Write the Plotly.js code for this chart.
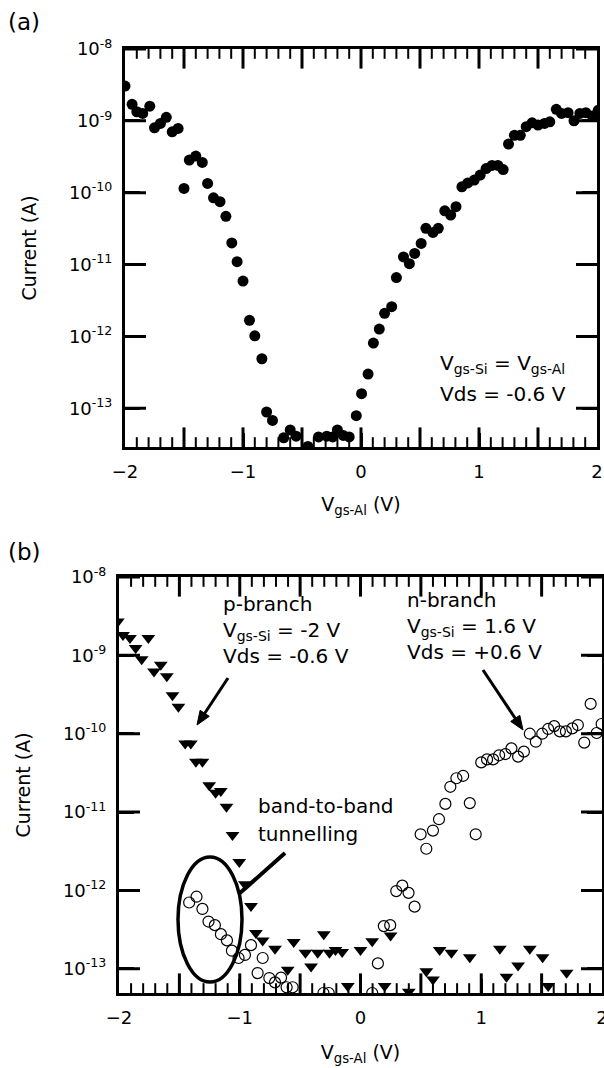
<!DOCTYPE html>
<html>
<head>
<meta charset="utf-8">
<script src="https://cdn.plot.ly/plotly-3.0.1.min.js"></script>
<style>html,body{margin:0;padding:0;background:#fff;}#chart{width:604px;height:1068px;}</style>
</head>
<body>
<div id="chart"></div>
<script>
// ---------- Data: panel (a), Vgs-Si = Vgs-Al, Vds = -0.6 V ----------
const aVgs = [-2.00,-1.94,-1.90,-1.85,-1.79,-1.75,-1.70,-1.65,-1.60,-1.55,-1.50,-1.455,-1.40,-1.345,-1.30,-1.25,-1.195,-1.145,-1.095,-1.05,
  -1.00,-0.945,-0.90,-0.84,-0.80,-0.75,-0.655,-0.60,-0.55,-0.45,-0.36,-0.29,-0.24,-0.20,-0.15,-0.10,-0.04,0.005,0.06,0.105,
  0.155,0.20,0.26,0.30,0.36,0.41,0.455,0.51,0.55,0.61,0.655,0.71,0.76,0.805,0.855,0.905,0.96,1.01,1.06,1.11,
  1.16,1.205,1.25,1.30,1.35,1.40,1.45,1.50,1.555,1.60,1.655,1.70,1.755,1.805,1.855,1.905,1.96,2.01];
const aCurrent = [3.05e-9,1.7e-9,1.34e-9,1.27e-9,1.6e-9,8.0e-10,9.2e-10,1.12e-9,7.05e-10,7.85e-10,1.15e-10,2.85e-10,3.24e-10,2.64e-10,1.35e-10,8.5e-11,7.5e-11,4.7e-11,2.0e-11,1.1e-11,
  5.9e-12,1.68e-12,1.02e-12,4.9e-13,8.9e-14,6.8e-14,3.9e-14,5.0e-14,4.1e-14,2.95e-14,4.0e-14,4.1e-14,4.0e-14,5.0e-14,4.2e-14,4.0e-14,7.9e-14,1.6e-13,3.0e-13,8.1e-13,
  1.27e-12,2.1e-12,2.6e-12,6.6e-12,1.28e-11,1.03e-11,1.43e-11,1.97e-11,3.2e-11,2.8e-11,3.2e-11,5.6e-11,4.9e-11,6.4e-11,1.21e-10,1.37e-10,1.5e-10,1.76e-10,2.17e-10,2.4e-10,
  2.4e-10,2.1e-10,4.75e-10,6.3e-10,6.3e-10,8.3e-10,9.4e-10,8.75e-10,9.2e-10,9.7e-10,1.45e-9,1.27e-9,1.3e-9,1.0e-9,1.27e-9,1.3e-9,1.17e-9,1.4e-9];

// ---------- Data: panel (b), p-branch (Vgs-Si = -2 V, Vds = -0.6 V) ----------
const pVgs = [-2.01,-1.967,-1.909,-1.862,-1.812,-1.757,-1.71,-1.654,-1.604,-1.557,-1.508,-1.452,-1.405,-1.363,-1.309,-1.253,-1.20,-1.157,-1.11,-1.06,
  -1.004,-0.957,-0.907,-0.866,-0.81,-0.708,-0.603,-0.553,-0.456,-0.409,-0.354,-0.304,-0.257,-0.207,-0.152,-0.105,0.0,0.097,0.2,0.249,
  0.40,0.545,0.60,0.656,0.753,0.905,1.154,1.209,1.305,1.402,1.508,1.554,1.707];
const pCurrent = [2.7e-9,1.82e-9,1.66e-9,1.24e-9,8.9e-10,1.66e-9,6.2e-10,7.6e-10,5.4e-10,3.1e-10,2.2e-10,7.5e-11,7.5e-11,4.4e-11,4.4e-11,2.2e-11,1.76e-11,1.86e-11,1.17e-11,5.1e-12,
  2.3e-12,1.2e-12,6.3e-13,2.85e-13,2.3e-13,1.8e-13,9.7e-14,2.2e-13,1.6e-13,1.07e-13,1.6e-13,2.76e-13,1.6e-13,1.74e-13,1.63e-13,6.0e-14,1.74e-13,2.24e-13,6.0e-14,2.66e-13,
  5.1e-14,9.3e-14,7.3e-14,1.74e-13,1.6e-13,1.4e-13,1.8e-13,7.9e-14,1.1e-13,1.8e-13,1.4e-13,6.0e-14,8.9e-14];

// ---------- Data: panel (b), n-branch (Vgs-Si = 1.6 V, Vds = +0.6 V) ----------
const nVgs = [-1.419,-1.358,-1.309,-1.259,-1.206,-1.156,-1.106,-1.065,-1.01,-0.957,-0.907,-0.852,-0.81,-0.755,-0.708,-0.658,-0.612,-0.562,-0.307,-0.263,
  0.097,0.144,0.193,0.246,0.296,0.346,0.398,0.448,0.498,0.545,0.60,0.65,0.703,0.744,0.794,0.85,0.905,0.954,1.0,1.048,
  1.098,1.148,1.20,1.25,1.305,1.353,1.402,1.452,1.505,1.554,1.604,1.651,1.701,1.754,1.80,1.853,1.906,1.956,1.997];
const nCurrent = [7.0e-13,8.3e-13,5.8e-13,4.0e-13,3.6e-13,2.76e-13,2.3e-13,1.7e-13,1.37e-13,1.5e-13,2.0e-13,8.8e-14,1.37e-13,7.6e-14,6.7e-14,7.7e-14,5.8e-14,5.8e-14,4.9e-14,4.9e-14,
  4.9e-14,1.17e-13,3.5e-13,3.6e-13,9.8e-13,1.15e-12,9.3e-13,6.2e-13,5.2e-12,3.4e-12,5.8e-12,8.1e-12,1.27e-11,2.1e-11,2.7e-11,2.9e-11,1.3e-11,5.2e-12,4.3e-11,4.7e-11,
  4.7e-11,5.3e-11,5.5e-11,6.5e-11,5.1e-11,5.9e-11,1.0e-10,7.9e-11,1.0e-10,1.15e-10,1.25e-10,1.07e-10,1.07e-10,1.17e-10,1.29e-10,7.7e-11,2.4e-10,1.02e-10,1.33e-10];

// ---------- Tick values / labels ----------
const yTickVals = [1e-8,1e-9,1e-10,1e-11,1e-12,1e-13];
const yTickText = ['10<sup>-8</sup>','10<sup>-9</sup>','10<sup>-10</sup>','10<sup>-11</sup>','10<sup>-12</sup>','10<sup>-13</sup>'];
const xMajorTicks = [-1.5,-1,-0.5,0,0.5,1,1.5];
const xMinorTicks = [-1.9,-1.8,-1.7,-1.6,-1.4,-1.3,-1.2,-1.1,-0.9,-0.8,-0.7,-0.6,-0.4,-0.3,-0.2,-0.1,
                     0.1,0.2,0.3,0.4,0.6,0.7,0.8,0.9,1.1,1.2,1.3,1.4,1.6,1.7,1.8,1.9];

// ---------- Layout helpers ----------
const W = 604, H = 1068;
const px = v => v / W;
const py = v => 1 - v / H;
const FONT = 'DejaVu Sans, Liberation Sans, Arial, sans-serif';
const CLEAR = 'rgba(0,0,0,0)';

const rangeA = [Math.log10(2.9e-14), -8];
const rangeB = [Math.log10(4.9e-14), -8];
const X_RANGE = [-2, 2];

function xMain(domain, anchor, standoff) {
  return {
    domain: domain, anchor: anchor, range: X_RANGE,
    tickmode: 'linear', tick0: -2, dtick: 1,
    ticks: 'inside', ticklen: 14, tickwidth: 3, tickcolor: 'black',
    showline: true, linewidth: 3, linecolor: 'black', mirror: true,
    gridcolor: CLEAR, zerolinecolor: CLEAR,
    tickfont: {family: FONT, size: 18, color: 'black'},
    ticklabelstandoff: 6, ticklabeloverflow: 'allow', automargin: false,
    title: {text: 'V<sub>gs-Al</sub> (V)', font: {family: FONT, size: 19, color: 'black'}, standoff: standoff}
  };
}
function yMain(domain, anchor, range) {
  return {
    domain: domain, anchor: anchor, type: 'log', range: range,
    tickvals: yTickVals, ticktext: yTickText,
    ticks: 'inside', ticklen: 15, tickwidth: 3, tickcolor: 'black',
    showline: true, linewidth: 3, linecolor: 'black', mirror: 'allticks',
    gridcolor: CLEAR, zerolinecolor: CLEAR,
    tickfont: {family: FONT, size: 18, color: 'black'},
    ticklabelstandoff: 6, automargin: false,
    title: {text: 'Current (A)', font: {family: FONT, size: 19, color: 'black'}, standoff: 28}
  };
}

// Frame tick combs as clipped line markers sitting on the frame edges (half outside is clipped away)
function combTrace(xs, ys, xa, ya, symbol, size, width) {
  return {x: xs, y: ys, xaxis: xa, yaxis: ya, type: 'scatter', mode: 'markers', hoverinfo: 'skip',
          cliponaxis: true,
          marker: {symbol: symbol, size: size, color: 'black', line: {color: 'black', width: width}}};
}
function frameCombs(xa, ya, yRange) {
  const bottom = Math.pow(10, yRange[0]), top = Math.pow(10, yRange[1]);
  return [
    combTrace(xMajorTicks, xMajorTicks.map(() => bottom), xa, ya, 'line-ns', 28, 3),
    combTrace(xMajorTicks, xMajorTicks.map(() => top), xa, ya, 'line-ns', 28, 3),
    combTrace(xMinorTicks, xMinorTicks.map(() => bottom), xa, ya, 'line-ns', 14, 2),
    combTrace(xMinorTicks, xMinorTicks.map(() => top), xa, ya, 'line-ns', 14, 2),
    combTrace(yTickVals.map(() => X_RANGE[0]), yTickVals, xa, ya, 'line-ew', 30, 3),
    combTrace(yTickVals.map(() => X_RANGE[1]), yTickVals, xa, ya, 'line-ew', 30, 3)
  ];
}

const traces = [].concat(
  frameCombs('x', 'y', rangeA),
  frameCombs('x2', 'y2', rangeB),
  [
    {x: aVgs, y: aCurrent, xaxis: 'x', yaxis: 'y', type: 'scatter', mode: 'markers',
     marker: {symbol: 'circle', size: 11, color: 'black'}},
    {x: pVgs, y: pCurrent, xaxis: 'x2', yaxis: 'y2', type: 'scatter', mode: 'markers',
     marker: {symbol: 'triangle-down', size: 12, color: 'black'}},
    {x: nVgs, y: nCurrent, xaxis: 'x2', yaxis: 'y2', type: 'scatter', mode: 'markers',
     marker: {symbol: 'circle-open', size: 11, color: 'black', line: {width: 1.2, color: 'black'}}}
  ]
);

function txt(text, x, y, size) {
  return {text: text, xref: 'paper', yref: 'paper', x: px(x), y: py(y), xanchor: 'left', yanchor: 'middle',
          align: 'left', showarrow: false, font: {family: FONT, size: size || 20, color: 'black'}};
}

const annotations = [
  txt('(a)', 6, 22, 23),
  txt('(b)', 6, 552, 23),
  txt('V<sub>gs-Si</sub> = V<sub>gs-Al</sub>', 438, 364, 20),
  txt('Vds = -0.6 V', 438, 394, 20),
  txt('p-branch<br>V<sub>gs-Si</sub> = -2 V<br>Vds = -0.6 V', 221, 630, 20),
  txt('n-branch<br>V<sub>gs-Si</sub> = 1.6 V<br>Vds = +0.6 V', 405, 626, 20),
  txt('band-to-band', 256, 806, 20),
  txt('tunnelling', 256, 834, 20)
];

// arrows drawn as a shaft line plus a filled head (pixel geometry -> paper)
function arrowShapes(tx, ty, hx, hy) {
  const dx = hx - tx, dy = hy - ty, L = Math.hypot(dx, dy);
  const ux = dx / L, uy = dy / L, nx = -uy, ny = ux;
  const headLen = 14, headHalf = 5.5;
  const bx = hx - headLen * ux, by = hy - headLen * uy;
  return [
    {type: 'line', xref: 'paper', yref: 'paper', x0: px(tx), y0: py(ty), x1: px(bx + 2 * ux), y1: py(by + 2 * uy),
     line: {color: 'black', width: 3}},
    {type: 'path', xref: 'paper', yref: 'paper', fillcolor: 'black', line: {color: 'black', width: 1},
     path: 'M' + px(hx) + ',' + py(hy) + ' L' + px(bx + headHalf * nx) + ',' + py(by + headHalf * ny) +
           ' L' + px(bx - headHalf * nx) + ',' + py(by - headHalf * ny) + ' Z'}
  ];
}

const shapes = [
  {type: 'circle', xref: 'paper', yref: 'paper', x0: px(178), x1: px(242), y0: py(982), y1: py(857),
   line: {color: 'black', width: 3.5}},
  {type: 'line', xref: 'paper', yref: 'paper', x0: px(285), y0: py(853), x1: px(240), y1: py(893),
   line: {color: 'black', width: 4}}
].concat(arrowShapes(228, 678, 197, 725), arrowShapes(483, 670, 523, 730));

const layout = {
  width: W, height: H,
  margin: {l: 0, r: 0, t: 0, b: 0},
  showlegend: false,
  xaxis: xMain([px(125), px(597)], 'y', 18),
  yaxis: yMain([py(447), py(49)], 'x', rangeA),
  xaxis2: xMain([px(119), px(602)], 'y2', 20),
  yaxis2: yMain([py(993), py(577)], 'x2', rangeB),
  annotations: annotations,
  shapes: shapes
};

Plotly.newPlot('chart', traces, layout, {displayModeBar: false, staticPlot: true});
</script>
</body>
</html>
